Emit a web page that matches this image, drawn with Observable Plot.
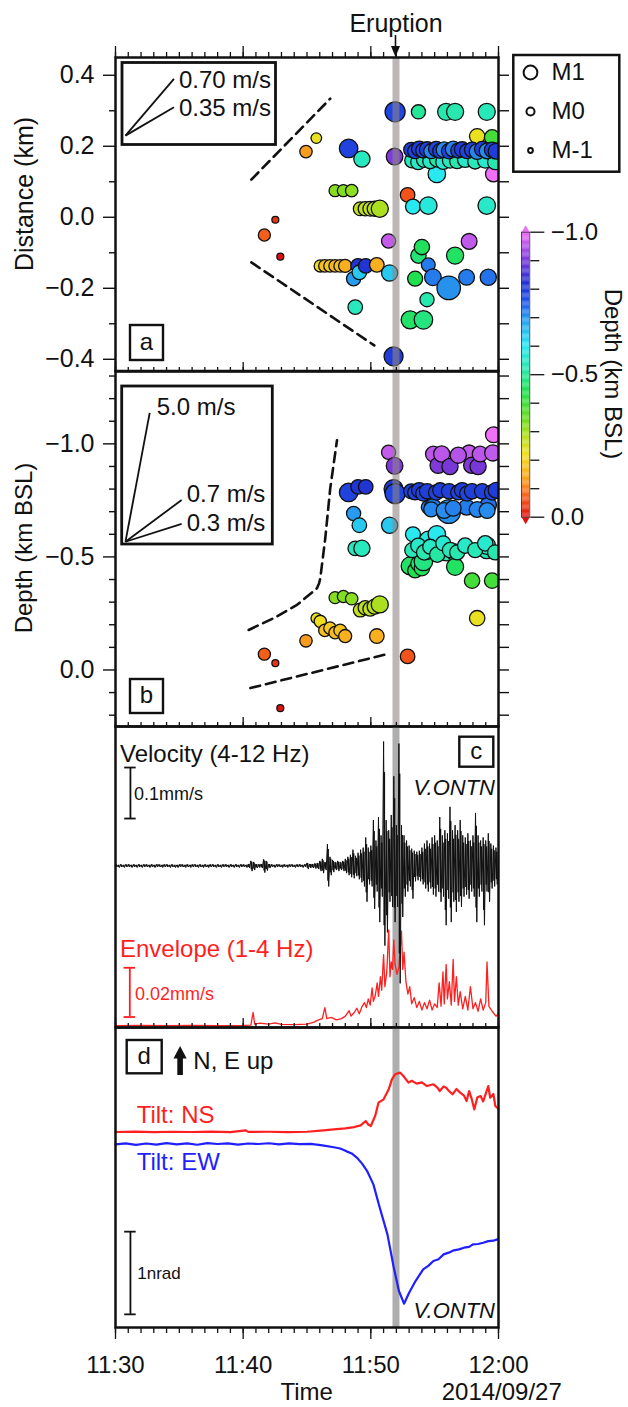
<!DOCTYPE html>
<html><head><meta charset="utf-8">
<script src="https://cdn.jsdelivr.net/npm/d3@7"></script>
<script src="https://cdn.jsdelivr.net/npm/@observablehq/plot@0.6"></script>
<style>
html,body{margin:0;padding:0;background:#fff;}
#fig{position:relative;width:628px;height:1407px;overflow:hidden;background:#fff;
 font-family:"Liberation Sans",Arial,Helvetica,sans-serif;}
</style></head><body><div id="fig"></div>
<script>
// ---------------- DATA ----------------
// time in minutes after 11:30 (2014/09/27)
const eruptT = 21.97;
const timeTicks = [0, 10, 20, 30];
const timeLabels = ["11:30", "11:40", "11:50", "12:00"];

// events: [time (min), distance (km), depth (km BSL), magnitude]
const quakes = [
 [11.66,-0.050,-0.070,0.60],[12.52,-0.007,-0.030,-0.45],[12.91,-0.111,0.169,-0.45],
 [14.92,0.185,-0.129,0.65],[15.73,0.223,-0.229,0.35],
 [16.04,-0.137,-0.215,0.62],[16.40,-0.137,-0.175,0.65],[16.80,-0.137,-0.185,0.65],
 [17.20,-0.137,-0.165,0.65],[17.60,-0.137,-0.175,0.68],[17.99,-0.137,-0.150,0.75],
 [17.20,0.075,-0.320,0.60],[17.85,0.075,-0.325,0.60],[18.50,0.075,-0.315,0.65],
 [18.26,0.194,-0.785,1.40],[18.65,-0.173,-0.692,0.90],[18.78,-0.253,-0.538,0.95],
 [19.00,-0.137,-0.810,0.95],[19.10,-0.155,-0.640,0.95],[19.30,0.164,-0.538,1.15],
 [19.60,-0.137,-0.810,0.95],
 [19.17,0.024,-0.265,0.85],[19.56,0.024,-0.275,0.90],[19.95,0.024,-0.270,0.95],
 [20.30,0.024,-0.280,1.00],[20.70,0.024,-0.290,1.25],[20.47,-0.134,-0.150,0.95],
 [21.39,-0.067,-0.963,0.90],[21.47,-0.157,-0.640,1.15],[21.78,-0.392,-0.800,1.45],
 [21.86,0.171,-0.903,1.20],[21.90,0.297,-0.780,1.55],[22.88,0.063,-0.060,0.95],
 [23.73,0.297,-0.500,0.90],[25.90,0.297,-0.520,1.25],[26.60,0.297,-0.520,1.25],[29.08,0.297,-0.530,1.25],
 [23.30,0.030,-0.600,1.00],[24.50,0.033,-0.575,1.30],[25.17,0.122,-0.600,1.30],[29.08,0.033,-0.550,1.30],
 [23.08,-0.289,-0.460,1.35],[23.47,-0.173,-0.440,1.00],[23.73,-0.108,-0.470,1.05],
 [24.00,-0.084,-0.450,1.05],[24.12,-0.289,-0.480,1.40],[26.60,-0.108,-0.456,1.25],
 [24.50,-0.134,-0.720,0.85],[24.86,-0.169,-0.720,1.20],[26.10,-0.199,-0.700,1.85],
 [27.50,-0.169,-0.720,1.10],[29.20,-0.169,-0.730,1.15],[24.40,-0.232,-0.520,0.90],
 [27.70,-0.068,-0.960,1.10],[29.60,0.122,-1.040,1.10],
 [24.90,0.175,-0.955,1.10],[25.27,0.170,-0.905,1.15],[25.55,0.180,-0.955,1.15],
 [26.20,0.172,-0.900,1.15],[26.85,0.178,-0.950,1.15],[27.90,0.165,-0.905,1.15],
 [28.40,0.172,-0.900,1.15],[28.56,0.178,-0.955,1.10],[29.55,0.165,-0.960,1.15],
 [27.93,0.185,-0.395,1.05],[28.33,0.228,-0.229,1.05],[29.50,0.225,-0.395,1.05],
 [23.24,0.160,-0.530,1.00],[23.71,0.155,-0.550,1.00],[24.18,0.162,-0.520,1.05],
 [24.65,0.158,-0.545,1.00],[25.20,0.163,-0.510,1.05],[25.67,0.156,-0.560,1.00],
 [26.21,0.160,-0.530,1.05],[26.76,0.158,-0.520,1.00],[27.39,0.162,-0.550,1.05],
 [28.17,0.157,-0.530,1.00],[28.96,0.160,-0.560,1.05],[29.73,0.155,-0.520,1.00],
 [23.16,0.190,-0.790,1.00],[23.47,0.186,-0.785,1.00],[23.79,0.193,-0.795,1.05],
 [24.10,0.188,-0.780,1.00],[24.41,0.191,-0.790,1.05],[24.73,0.186,-0.710,1.00],
 [25.12,0.192,-0.785,1.05],[25.43,0.187,-0.795,1.00],[25.74,0.190,-0.705,1.10],
 [26.13,0.186,-0.790,1.05],[26.45,0.192,-0.715,1.10],[26.84,0.188,-0.785,1.00],
 [27.15,0.191,-0.795,1.05],[27.54,0.186,-0.780,1.00],[27.93,0.190,-0.790,1.05],
 [28.33,0.185,-0.710,1.10],[28.72,0.192,-0.790,1.05],[29.11,0.187,-0.705,1.10],
 [29.50,0.190,-0.785,1.05],[29.81,0.186,-0.795,1.10]
];

// migration guide lines [time, distance] and [time, depth]
const dashA1 = [[10.64,0.106],[16.82,0.334]];
const dashA2 = [[10.64,-0.127],[20.27,-0.361]];
const dashB1 = [[10.43,-0.177],[12.39,-0.229],[14.22,-0.288],[15.78,-0.361],[15.94,-0.382],
                [16.04,-0.405],[16.43,-0.582],[16.82,-0.803],[17.35,-1.016]];
const dashB2 = [[10.56,0.080],[21.26,-0.070]];

// reference velocities (m/s)
const velRefA = [0.70, 0.35];
const velRefB = [5.0, 0.7, 0.3];

// magnitude legend
const legendMags = [1, 0, -1];

// velocity (4-12 Hz), um/s, max / min per 0.2 min bin from 11:30
const velStep = 0.2;
const velHi = [3,2,3,2,3,3,2,3,2,3, 2,3,3,2,3,2,3,3,2,3, 3,2,3,2,2,3,3,2,3,2, 3,3,2,3,2,3,2,3,3,2,
 3,2,3,3,2,3,2,3,2,3, 3,2,
 4,10,8,4,3,4,13,10,4,
 3,2,3,3,2,3,2,3,3,2,3,3,2,3,
 6,4,4,5,6,
 10,14,8,43,18,12,8,10,8,10,
 14,18,22,32,20,26,32,36,56,36,
 40,90,50,96,60,244,90,70,100,176,
 80,240,80,60,50,40,34,30,28,30,
 36,44,50,44,56,60,50,96,60,70,
 64,116,70,80,70,90,60,56,64,50,
 60,104,60,50,56,50,64,44,40,36,30];
const velLo = [-2,-3,-2,-3,-2,-2,-3,-2,-3,-2, -3,-2,-2,-3,-2,-3,-2,-2,-3,-2, -2,-3,-2,-3,-3,-2,-2,-3,-2,-3,
 -2,-2,-3,-2,-3,-2,-3,-2,-2,-3, -2,-3,-2,-2,-3,-2,-3,-2,-3,-2, -2,-3,
 -4,-10,-8,-4,-3,-4,-13,-9,-4,
 -2,-3,-2,-2,-3,-2,-3,-2,-2,-3,-2,-2,-3,-2,
 -6,-4,-4,-5,-6,
 -10,-14,-8,-40,-18,-12,-8,-10,-8,-10,
 -14,-18,-22,-24,-20,-26,-32,-40,-70,-36,
 -40,-84,-50,-110,-60,-156,-130,-70,-80,-110,
 -80,-230,-100,-60,-50,-40,-64,-30,-28,-30,
 -36,-44,-50,-44,-56,-60,-50,-70,-60,-116,
 -64,-110,-70,-90,-70,-80,-60,-56,-64,-50,
 -60,-110,-60,-50,-116,-50,-70,-44,-40,-36,-30];

// envelope (1-4 Hz), [time, um/s]
const envelope = [[0,0.2],[2,0.3],[4,0.2],[6,0.3],[8,0.2],[10,0.3],[10.6,0.4],[10.78,5.5],[10.9,0.8],
 [11.3,1.2],[12,0.8],[12.5,1.3],[13,0.7],[14,0.6],[15,0.8],[15.5,1.5],[15.9,2.5],[16.2,3],[16.4,7.5],
 [16.55,3],[16.9,3.5],[17.3,2.5],[17.7,3],[18.0,4],[18.3,6.2],[18.45,4],[18.7,5.5],[18.9,7.2],[19.1,5],
 [19.3,7.8],[19.5,9.5],[19.65,7.5],[19.8,11],[19.95,8.5],[20.1,15.5],[20.2,10],[20.35,12.5],[20.5,17.5],
 [20.6,12],[20.75,20],[20.85,14.5],[21.0,29],[21.1,16],[21.25,22],[21.4,39],[21.5,20],[21.6,26],[21.7,23],
 [21.8,35],[21.9,25],[22.05,21],[22.2,24],[22.4,38.5],[22.5,23],[22.6,30],[22.75,18],[22.9,13],[23.05,16],
 [23.2,9],[23.4,11.5],[23.6,7.5],[23.8,10],[24.0,6.5],[24.2,9.5],[24.4,7],[24.6,10.5],[24.8,6.5],[25.0,9],
 [25.2,7.5],[25.35,17.5],[25.5,8],[25.65,22],[25.75,9],[25.9,25],[26.0,11],[26.15,18],[26.3,8.5],[26.45,27],
 [26.55,10],[26.7,20],[26.85,8.5],[27.0,14],[27.2,7],[27.4,12],[27.6,6.5],[27.8,16],[28.0,7],[28.2,9.5],
 [28.4,6],[28.6,11],[28.8,6.5],[29.0,9.5],[29.1,26],[29.25,8],[29.5,6],[29.8,4],[30,5]];

// tilt (nrad), [time, value]
const tiltNS = [[0,0],[1.5,0.004],[3,-0.002],[4.5,0.003],[6,0],[7.5,0.004],[9,-0.002],[10.2,0.02],[10.4,0.002],
 [12,0.003],[13.5,-0.001],[15,0.003],[16.3,0.02],[17.1,0.032],[18.0,0.045],[18.7,0.06],[19.2,0.08],[19.6,0.133],
 [19.8,0.09],[20.0,0.073],[20.35,0.2],[20.6,0.355],[21.0,0.395],[21.4,0.516],[21.65,0.637],[21.9,0.698],
 [22.3,0.718],[22.55,0.677],[22.95,0.597],[23.2,0.62],[23.6,0.585],[24.0,0.6],[24.4,0.556],[24.9,0.577],
 [25.2,0.54],[25.4,0.496],[25.7,0.55],[25.9,0.536],[26.1,0.5],[26.4,0.456],[26.7,0.52],[27.0,0.476],
 [27.3,0.44],[27.5,0.375],[27.7,0.496],[27.9,0.4],[28.1,0.274],[28.35,0.42],[28.6,0.435],[28.8,0.37],
 [29.2,0.556],[29.35,0.415],[29.6,0.46],[29.75,0.315],[30,0.28]];
const tiltEW = [[0,0],[0.8,0.012],[1.6,-0.006],[2.4,0.01],[3.2,-0.004],[4,0.014],[4.8,0],[5.6,0.012],
 [6.4,-0.005],[7.2,0.015],[8,0.004],[8.8,0.012],[9.6,-0.003],[10.4,0.01],[11.2,0.004],[12,0.013],[12.8,0],
 [13.6,0.012],[14.4,0.002],[15.3,0.005],[16.2,-0.012],[17.1,-0.035],[17.6,-0.05],[18.1,-0.085],[18.5,-0.11],
 [18.9,-0.16],[19.3,-0.23],[19.7,-0.32],[20.2,-0.484],[20.7,-0.766],[21.3,-1.089],[21.8,-1.492],[22.2,-1.774],
 [22.6,-1.927],[23.0,-1.794],[23.5,-1.653],[24.1,-1.512],[24.5,-1.47],[24.9,-1.411],[25.3,-1.39],[25.7,-1.331],
 [26.1,-1.31],[26.5,-1.282],[26.9,-1.27],[27.3,-1.25],[27.7,-1.24],[28.0,-1.21],[28.4,-1.205],[28.8,-1.19],
 [29.2,-1.17],[29.6,-1.165],[29.9,-1.149]];

// scale bars: length in data units
const velBar = {len: 100};   // 0.1 mm/s
const envBar = {len: 20};    // 0.02 mm/s
const tiltBar = {len: 1};    // 1 nrad

// ---------------- STYLE / LAYOUT ----------------
const FONT = '"Liberation Sans", Arial, Helvetica, sans-serif';
const fig = document.getElementById("fig");
const depthStops = [-1.0,-0.90,-0.82,-0.76,-0.68,-0.60,-0.52,-0.44,-0.34,-0.28,-0.22,-0.15,-0.10,-0.05,0.0];
const depthColors = ["#f070f8","#7838d8","#2030d0","#2050e8","#28a8f0","#28e8f0","#28e8b0","#20e050",
                     "#70dc20","#b8e020","#f0e020","#f8b020","#f88020","#f04818","#e01010"];
const ramp = d3.scaleLinear().domain(depthStops).range(depthColors).clamp(true);
const colorScale = {type: "linear", domain: [-1, 0], interpolate: t => ramp(-1 + t), clamp: true};
const magRadius = m => 4.4 * Math.pow(1.7, m);
const fmt1 = d3.format(".1f");
const noText = () => "";
const baseStyle = {background: "transparent", overflow: "visible", fontFamily: FONT, fontSize: "24px", color: "#111"};
const RED = "#ff1f1f", BLUE = "#1f1fff";

function place(el, left, top) {
  el.style.position = "absolute"; el.style.left = left + "px"; el.style.top = top + "px";
  fig.appendChild(el); return el;
}
function panel({top, bottom, mt, mb, y, marks, xAxis}) {
  const p = Plot.plot({
    width: 628, height: bottom - top + mt + mb,
    marginLeft: 115, marginRight: 130, marginTop: mt, marginBottom: mb,
    x: {domain: [0, 30], label: null, ...(xAxis === null ? {axis: null} : {})},
    y: {label: null, ...y},
    color: colorScale,
    r: {type: "identity"},
    style: baseStyle,
    marks
  });
  return place(p, 0, top - mt);
}
const minuteTicks = d3.range(0, 31);
const topTicks = (minor, major) => [
  Plot.axisX({anchor: "top", ticks: minuteTicks, tickSize: minor, tickFormat: noText, label: null, strokeWidth: 1.3}),
  Plot.axisX({anchor: "top", ticks: timeTicks, tickSize: major, tickFormat: noText, label: null, strokeWidth: 1.3})
];
const band = (op, c) => Plot.ruleX([eruptT], {stroke: c, strokeWidth: 7, strokeOpacity: op});
const dashStyle = {x: d => d[0], y: d => d[1], stroke: "#111", strokeWidth: 2.6, strokeDasharray: "10,6"};

// ---------- Panel a ----------
const insetA = {t0: 0.78, y0: 0.23, dt: 3.8};
const plotA = panel({top: 57, bottom: 370.5, mt: 57, mb: 2, y: {domain: [-0.433, 0.45]}, marks: [
  Plot.line(dashA1, dashStyle), Plot.line(dashA2, dashStyle),
  Plot.link(velRefA, {x1: insetA.t0, y1: insetA.y0, x2: insetA.t0 + insetA.dt,
    y2: v => insetA.y0 + v * 0.06 * insetA.dt, stroke: "#111", strokeWidth: 1.8}),
  Plot.text(velRefA, {x: insetA.t0 + insetA.dt, y: v => insetA.y0 + v * 0.06 * insetA.dt,
    text: v => `${v.toFixed(2)} m/s`, textAnchor: "start", dx: 5, dy: 1, fontSize: 24}),
  Plot.dot(quakes, {x: d => d[0], y: d => d[1], r: d => magRadius(d[3]), fill: d => d[2],
    stroke: "#111", strokeWidth: 1.3, clip: true, sort: null}),
  band(0.6, "#8f8585"),
  Plot.text(["Eruption"], {x: eruptT, frameAnchor: "top", dy: -26, lineAnchor: "bottom", fontSize: 25}),
  Plot.axisY({anchor: "left", ticks: [-0.4, -0.2, 0, 0.2, 0.4], tickSize: 12, tickPadding: 9, tickFormat: fmt1, label: null, strokeWidth: 1.4, fontSize: 25}),
  Plot.axisY({anchor: "left", ticks: [-0.3, -0.1, 0.1, 0.3], tickSize: 6, tickFormat: noText, label: null, strokeWidth: 1.4}),
  Plot.axisY({anchor: "right", ticks: d3.range(-4, 5).map(i => i / 10), tickSize: 10, tickFormat: noText, label: null, strokeWidth: 1.4}),
  ...topTicks(6, 12),
  Plot.frame({strokeWidth: 2.5})
]});

// ---------- Panel b ----------
const insetB = {t0: 0.78, y0: -0.567};
const dtB = v => (v >= 1 ? 1.9 : 4.4);
panel({top: 370.5, bottom: 725.5, mt: 14, mb: 2, y: {domain: [0.25, -1.32]}, marks: [
  Plot.line(dashB1, dashStyle), Plot.line(dashB2, dashStyle),
  Plot.link(velRefB, {x1: insetB.t0, y1: insetB.y0, x2: v => insetB.t0 + dtB(v),
    y2: v => insetB.y0 - v * 0.06 * dtB(v), stroke: "#111", strokeWidth: 1.8}),
  Plot.text([velRefB[0]], {x: v => insetB.t0 + dtB(v), y: v => insetB.y0 - v * 0.06 * dtB(v),
    text: v => `${v.toFixed(1)} m/s`, textAnchor: "start", dx: 7, dy: -6, fontSize: 24}),
  Plot.text([velRefB[1]], {x: v => insetB.t0 + dtB(v), y: v => insetB.y0 - v * 0.06 * dtB(v),
    text: v => `${v.toFixed(1)} m/s`, textAnchor: "start", dx: 5, dy: -6, fontSize: 24}),
  Plot.text([velRefB[2]], {x: v => insetB.t0 + dtB(v), y: v => insetB.y0 - v * 0.06 * dtB(v),
    text: v => `${v.toFixed(1)} m/s`, textAnchor: "start", dx: 5, dy: -1, fontSize: 24}),
  Plot.dot(quakes, {x: d => d[0], y: d => d[2], r: d => magRadius(d[3]), fill: d => d[2],
    stroke: "#111", strokeWidth: 1.3, clip: true, sort: null}),
  band(0.6, "#8f8585"),
  Plot.axisY({anchor: "left", ticks: [-1, -0.5, 0], tickSize: 12, tickPadding: 9, tickFormat: fmt1, label: null, strokeWidth: 1.4, fontSize: 25}),
  Plot.axisY({anchor: "left", ticks: [-1.3,-1.2,-1.1,-0.9,-0.8,-0.7,-0.6,-0.4,-0.3,-0.2,-0.1,0.1,0.2], tickSize: 6, tickFormat: noText, label: null, strokeWidth: 1.4}),
  Plot.axisY({anchor: "right", ticks: d3.range(-13, 3).map(i => i / 10), tickSize: 10, tickFormat: noText, label: null, strokeWidth: 1.4}),
  ...topTicks(5, 10),
  Plot.frame({strokeWidth: 2.5})
]});

// ---------- Panel c ----------
const velPts = velHi.flatMap((h, i) => [[i * velStep, h], [i * velStep + velStep / 2, velLo[i]]]);
const velBins = velHi.map((h, i) => ({t: i * velStep + velStep / 4, hi: h, lo: velLo[i]}));
const barT = 1.17, envBarT = 1.12, capW = 0.45;
panel({top: 725.5, bottom: 1026.5, mt: 14, mb: 2, xAxis: null, y: {domain: [-0.6, 121.6], axis: null}, marks: [
  band(0.8, "#9a9a9a"),
  Plot.line(envelope, {x: d => d[0], y: d => d[1], stroke: RED, strokeWidth: 1.3}),
  Plot.ruleX([envBar], {x: envBarT, y1: 3.65, y2: d => 3.65 + d.len, stroke: RED, strokeWidth: 1.8}),
  Plot.ruleY([3.65, 3.65 + envBar.len], {x1: envBarT - capW, x2: envBarT + capW, stroke: RED, strokeWidth: 1.8})
]});
panel({top: 725.5, bottom: 1026.5, mt: 14, mb: 2, y: {domain: [-316.5, 273.4], axis: null}, marks: [
  Plot.ruleX(velBins, {x: "t", y1: d => d.lo * 0.75, y2: d => d.hi * 0.75, stroke: "#111", strokeWidth: 1.7, clip: true}),
  Plot.line(velPts, {x: d => d[0], y: d => d[1], stroke: "#111", strokeWidth: 1, clip: true}),
  Plot.ruleX([velBar], {x: barT, y1: 93, y2: d => 93 + d.len, stroke: "#111", strokeWidth: 1.8}),
  Plot.ruleY([93, 93 + velBar.len], {x1: barT - capW, x2: barT + capW, stroke: "#111", strokeWidth: 1.8}),
  ...topTicks(5, 10),
  Plot.frame({strokeWidth: 2.5})
]});

// ---------- Panel d ----------
const EW_OFFSET = -0.149;
panel({top: 1026.5, bottom: 1326.5, mt: 14, mb: 80, y: {domain: [-2.364, 1.264], axis: null}, marks: [
  band(0.8, "#9a9a9a"),
  Plot.line(tiltNS, {x: d => d[0], y: d => d[1], stroke: RED, strokeWidth: 2.2}),
  Plot.line(tiltEW, {x: d => d[0], y: d => d[1] + EW_OFFSET, stroke: BLUE, strokeWidth: 2.2}),
  Plot.ruleX([tiltBar], {x: barT, y1: -2.205, y2: d => -2.205 + d.len, stroke: "#111", strokeWidth: 1.8}),
  Plot.ruleY([-2.205, -2.205 + tiltBar.len], {x1: barT - capW, x2: barT + capW, stroke: "#111", strokeWidth: 1.8}),
  ...topTicks(5, 10),
  Plot.axisX({anchor: "bottom", ticks: minuteTicks, tickSize: 6, tickFormat: noText, label: null, strokeWidth: 1.3}),
  Plot.axisX({anchor: "bottom", ticks: timeTicks, tickSize: 12, tickPadding: 16, tickFormat: d => timeLabels[timeTicks.indexOf(d)], label: null, strokeWidth: 1.3}),
  Plot.frame({strokeWidth: 2.5})
]});

// ---------- magnitude legend ----------
place(Plot.plot({
  width: 106, height: 117, marginTop: 17, marginBottom: 22, marginLeft: 0, marginRight: 0,
  y: {type: "point", domain: legendMags, padding: 0, axis: null},
  r: {type: "identity"}, style: baseStyle,
  marks: [
    Plot.dot(legendMags, {y: d => d, r: d => magRadius(d) * 0.92, frameAnchor: "left", dx: 17, fill: "white", stroke: "#111", strokeWidth: 2}),
    Plot.text(legendMags, {y: d => d, text: d => "M" + d, frameAnchor: "left", dx: 38, textAnchor: "start", fontSize: 24})
  ]
}), 513.3, 55);

// ---------- colour bar ----------
const cbBins = d3.range(0, 250).map(i => -1 + i * 0.004);
place(Plot.plot({
  width: 120, height: 340, marginLeft: 21, marginRight: 90.7, marginTop: 31.7, marginBottom: 23.3,
  x: {domain: [0, 1], axis: null}, y: {domain: [0, -1], label: null},
  color: colorScale, style: baseStyle,
  marks: [
    Plot.rect(cbBins, {x1: 0, x2: 1, y1: d => d, y2: d => d + 0.0042, fill: d => d + 0.002}),
    Plot.dot([-1], {x: 0.5, y: d => d, symbol: "triangle", r: 3, fill: d => d, dy: -2.3}),
    Plot.dot([0], {x: 0.5, y: d => d, symbol: "triangle", r: 3, fill: d => d, rotate: 180, dy: 2.3}),
    Plot.frame({stroke: "#333", strokeWidth: 0.8}),
    Plot.axisY({anchor: "right", ticks: [-1, -0.5, 0], tickSize: 14, tickPadding: 7, tickFormat: fmt1, label: null, strokeWidth: 1.3}),
    Plot.axisY({anchor: "right", ticks: [-0.9,-0.8,-0.7,-0.6,-0.4,-0.3,-0.2,-0.1], tickSize: 9, tickFormat: noText, label: null, strokeWidth: 1.3})
  ]
}), 500, 200);

// ---------- annotation overlay ----------
const ov = d3.create("svg").attr("width", 628).attr("height", 1407)
  .style("position", "absolute").style("left", "0px").style("top", "0px").style("overflow", "visible")
  .attr("font-family", FONT);
function txt(s, x, y, o = {}) {
  const t = ov.append("text").attr("x", x).attr("y", y).attr("font-size", o.size || 24)
    .attr("fill", o.fill || "#111").attr("text-anchor", o.anchor || "start").text(s);
  if (o.italic) t.attr("font-style", "italic");
  if (o.rotate) t.attr("transform", `rotate(${o.rotate},${x},${y})`).attr("dy", "0.35em");
  return t;
}
function box(x, y, w, h, sw = 2.5) {
  ov.append("rect").attr("x", x).attr("y", y).attr("width", w).attr("height", h)
    .attr("fill", "none").attr("stroke", "#111").attr("stroke-width", sw);
}
// eruption arrow
const ex = plotA.scale("x").apply(eruptT);
ov.append("line").attr("x1", ex).attr("x2", ex).attr("y1", 35).attr("y2", 50).attr("stroke", "#111").attr("stroke-width", 1.6);
ov.append("path").attr("d", `M${ex - 4.5},46 L${ex + 4.5},46 L${ex},57 Z`).attr("fill", "#111");
// inset boxes & legend box
box(122, 62.5, 153.5, 82, 2.8);
box(121.7, 386, 150.6, 158, 2.8);
box(513.3, 55, 106, 116.7, 2.5);
// panel letters
[["a", 130, 325, 33, 35], ["b", 130, 679, 33, 34], ["c", 459.3, 736.7, 34, 30], ["d", 126.7, 1040, 35, 33.3]]
  .forEach(([l, x, y, w, h]) => { box(x, y, w, h, 2.4); txt(l, x + w / 2, y + h / 2 + 7, {anchor: "middle"}); });
// axis titles
txt("Distance (km)", 24, 194, {rotate: -90, anchor: "middle", size: 25});
txt("Depth (km BSL)", 24, 548, {rotate: -90, anchor: "middle", size: 24});
txt("Depth (km BSL)", 613, 374, {rotate: 90, anchor: "middle", size: 24});
txt("Time", 306.7, 1400, {anchor: "middle"});
txt("2014/09/27", 441.7, 1400);
// panel c texts
txt("Velocity (4-12 Hz)", 120, 761.7);
txt("0.1mm/s", 134, 799.5, {size: 18});
txt("V.ONTN", 495, 795, {anchor: "end", italic: true, size: 22});
txt("Envelope (1-4 Hz)", 120, 957.3, {fill: RED});
txt("0.02mm/s", 135, 999.6, {size: 18, fill: RED});
// panel d texts
ov.append("rect").attr("x", 177.3).attr("y", 1056).attr("width", 5.6).attr("height", 19).attr("fill", "#111");
ov.append("path").attr("d", "M173.5,1058.5 L186.7,1058.5 L180.1,1046 Z").attr("fill", "#111");
txt("N, E up", 193.3, 1069.3);
txt("Tilt: NS", 136.7, 1123.3, {fill: RED});
txt("Tilt: EW", 136.7, 1170, {fill: BLUE});
txt("1nrad", 137.3, 1279, {size: 17});
txt("V.ONTN", 495, 1318.3, {anchor: "end", italic: true, size: 22});
fig.appendChild(ov.node());
</script></body></html>
